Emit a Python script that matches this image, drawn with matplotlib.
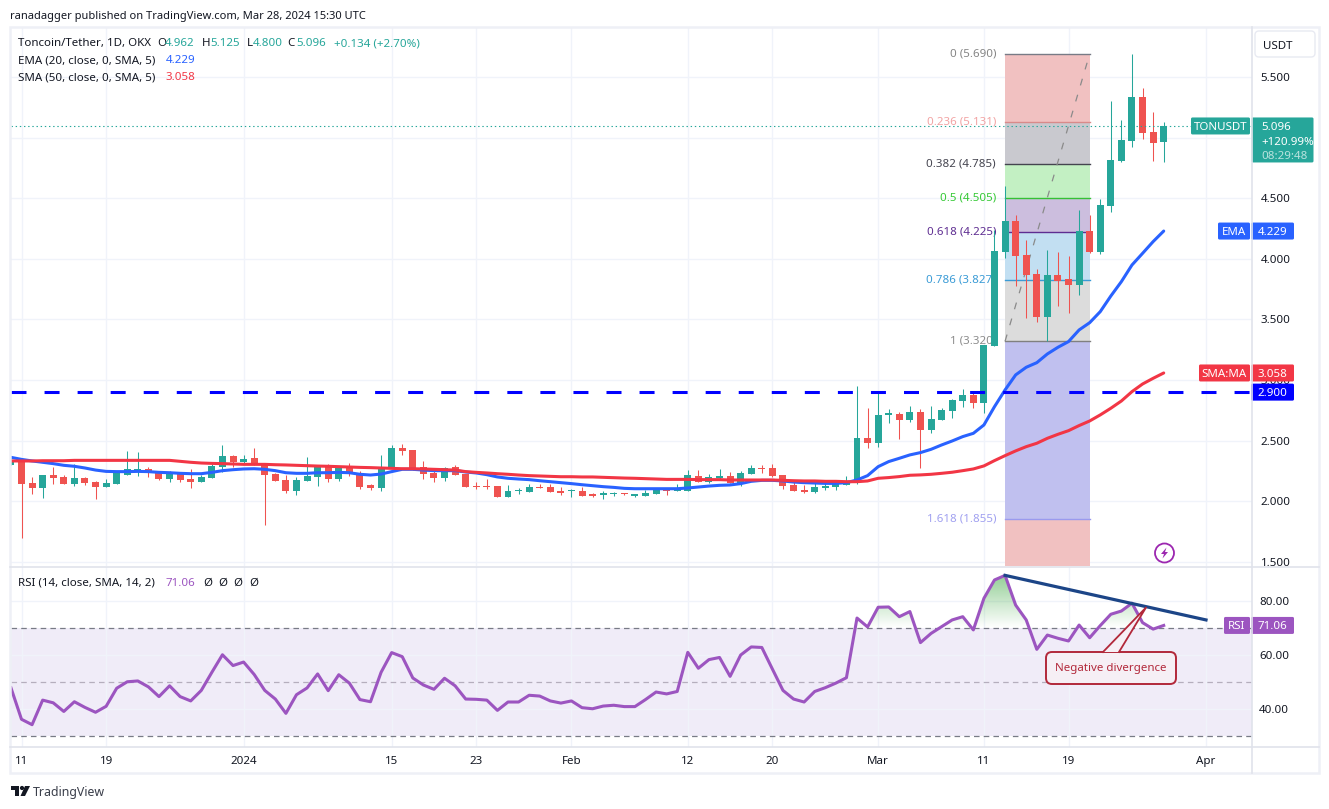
# TON/USDT daily chart with fib levels and RSI pane
import matplotlib
matplotlib.use("Agg")
import matplotlib.pyplot as plt
import numpy as np
from matplotlib.patches import Rectangle, FancyBboxPatch, Polygon, Circle
from matplotlib.path import Path

plt.rcParams["font.family"] = ["Noto Sans", "DejaVu Sans"]
plt.rcParams["lines.scale_dashes"] = False

# candles, one row per day, first one is Dec 10
open_p = [2.300, 2.332, 2.150, 2.112, 2.216, 2.200, 2.145, 2.191, 2.158, 2.120,
          2.145, 2.219, 2.241, 2.266, 2.241, 2.183, 2.233, 2.183, 2.158, 2.191,
          2.282, 2.373, 2.323, 2.356, 2.299, 2.224, 2.175, 2.084, 2.167, 2.200,
          2.282, 2.183, 2.282, 2.233, 2.134, 2.109, 2.274, 2.439, 2.422, 2.282,
          2.233, 2.191, 2.282, 2.224, 2.120, 2.120, 2.125, 2.035, 2.082, 2.076,
          2.117, 2.117, 2.084, 2.082, 2.084, 2.051, 2.054, 2.057, 2.062, 2.046,
          2.043, 2.059, 2.092, 2.084, 2.084, 2.208, 2.158, 2.191, 2.208, 2.142,
          2.224, 2.274, 2.274, 2.216, 2.134, 2.092, 2.076, 2.112, 2.117, 2.134,
          2.158, 2.521, 2.480, 2.712, 2.720, 2.670, 2.736, 2.588, 2.670, 2.745,
          2.827, 2.877, 2.811, 3.281, 4.056, 4.312, 4.032, 3.875, 3.520, 3.867,
          3.834, 3.784, 4.230, 4.056, 4.436, 4.807, 4.972, 5.335, 5.046, 4.962]
high_p = [2.345, 2.332, 2.200, 2.216, 2.282, 2.216, 2.307, 2.200, 2.167, 2.183,
          2.249, 2.414, 2.406, 2.282, 2.249, 2.249, 2.241, 2.266, 2.216, 2.307,
          2.464, 2.381, 2.381, 2.439, 2.299, 2.233, 2.216, 2.200, 2.365, 2.290,
          2.307, 2.290, 2.315, 2.249, 2.142, 2.381, 2.464, 2.472, 2.422, 2.332,
          2.274, 2.282, 2.299, 2.224, 2.158, 2.183, 2.125, 2.134, 2.109, 2.142,
          2.142, 2.142, 2.117, 2.101, 2.117, 2.065, 2.084, 2.076, 2.070, 2.059,
          2.092, 2.109, 2.109, 2.142, 2.257, 2.257, 2.224, 2.266, 2.241, 2.249,
          2.299, 2.299, 2.307, 2.216, 2.158, 2.134, 2.158, 2.150, 2.158, 2.208,
          2.950, 2.769, 2.901, 2.761, 2.736, 2.786, 2.761, 2.786, 2.769, 2.844,
          2.926, 2.901, 3.289, 4.238, 4.601, 4.362, 4.155, 3.916, 4.073, 4.056,
          4.023, 4.403, 4.362, 4.494, 5.302, 5.145, 5.690, 5.409, 5.211, 5.125]
low_p = [2.300, 1.699, 2.062, 2.029, 2.145, 2.145, 2.128, 2.136, 2.021, 2.120,
         2.145, 2.219, 2.208, 2.200, 2.175, 2.158, 2.158, 2.109, 2.158, 2.191,
         2.241, 2.282, 2.307, 2.299, 1.804, 2.167, 2.068, 2.051, 2.167, 2.125,
         2.158, 2.167, 2.208, 2.101, 2.092, 2.084, 2.274, 2.381, 2.257, 2.183,
         2.158, 2.167, 2.216, 2.117, 2.101, 2.101, 2.035, 2.035, 2.059, 2.076,
         2.109, 2.076, 2.051, 2.035, 2.043, 2.035, 2.018, 2.043, 2.051, 2.035,
         2.043, 2.059, 2.051, 2.084, 2.084, 2.158, 2.150, 2.175, 2.150, 2.125,
         2.224, 2.233, 2.200, 2.101, 2.084, 2.068, 2.068, 2.092, 2.092, 2.134,
         2.142, 2.439, 2.447, 2.648, 2.514, 2.654, 2.274, 2.563, 2.670, 2.687,
         2.778, 2.769, 2.728, 3.281, 4.007, 3.776, 3.512, 3.479, 3.322, 3.611,
         3.553, 3.702, 4.048, 4.040, 4.386, 4.799, 4.923, 4.989, 4.807, 4.800]
close_p = [2.340, 2.145, 2.112, 2.216, 2.194, 2.145, 2.191, 2.153, 2.120, 2.150,
           2.233, 2.266, 2.266, 2.235, 2.183, 2.233, 2.175, 2.158, 2.200, 2.290,
           2.373, 2.323, 2.348, 2.299, 2.216, 2.167, 2.084, 2.175, 2.208, 2.282,
           2.183, 2.274, 2.224, 2.117, 2.109, 2.282, 2.439, 2.414, 2.266, 2.224,
           2.191, 2.274, 2.216, 2.117, 2.114, 2.114, 2.035, 2.084, 2.087, 2.117,
           2.109, 2.076, 2.068, 2.087, 2.043, 2.046, 2.059, 2.062, 2.057, 2.051,
           2.068, 2.092, 2.087, 2.092, 2.216, 2.158, 2.200, 2.208, 2.150, 2.233,
           2.274, 2.266, 2.208, 2.125, 2.084, 2.076, 2.117, 2.125, 2.142, 2.167,
           2.521, 2.480, 2.711, 2.720, 2.670, 2.736, 2.588, 2.679, 2.753, 2.835,
           2.877, 2.811, 3.289, 4.065, 4.312, 4.023, 3.867, 3.520, 3.867, 3.817,
           3.784, 4.230, 4.056, 4.444, 4.815, 4.980, 5.335, 5.038, 4.956, 5.096]

ema20 = [2.362, 2.345, 2.332, 2.321, 2.310, 2.296, 2.288, 2.274, 2.257, 2.246,
         2.244, 2.244, 2.246, 2.244, 2.238, 2.235, 2.230, 2.227, 2.227, 2.238,
         2.252, 2.260, 2.266, 2.268, 2.263, 2.252, 2.235, 2.230, 2.230, 2.235,
         2.235, 2.238, 2.235, 2.222, 2.216, 2.224, 2.244, 2.263, 2.263, 2.257,
         2.252, 2.252, 2.252, 2.241, 2.233, 2.219, 2.200, 2.189, 2.183, 2.178,
         2.169, 2.161, 2.153, 2.145, 2.136, 2.128, 2.120, 2.114, 2.106, 2.103,
         2.103, 2.103, 2.103, 2.103, 2.109, 2.117, 2.125, 2.131, 2.134, 2.145,
         2.164, 2.172, 2.172, 2.167, 2.158, 2.153, 2.150, 2.147, 2.147, 2.153,
         2.175, 2.211, 2.285, 2.327, 2.354, 2.382, 2.401, 2.428, 2.464, 2.497,
         2.533, 2.560, 2.629, 2.780, 2.918, 3.042, 3.105, 3.143, 3.215, 3.270,
         3.317, 3.413, 3.473, 3.564, 3.693, 3.812, 3.949, 4.045, 4.142, 4.229]
sma50 = [2.332, 2.332, 2.332, 2.334, 2.334, 2.334, 2.337, 2.337, 2.337, 2.337,
         2.337, 2.337, 2.337, 2.337, 2.337, 2.337, 2.329, 2.321, 2.315, 2.312,
         2.310, 2.307, 2.304, 2.304, 2.304, 2.301, 2.299, 2.296, 2.293, 2.290,
         2.288, 2.285, 2.282, 2.279, 2.277, 2.274, 2.271, 2.268, 2.268, 2.266,
         2.263, 2.260, 2.257, 2.244, 2.238, 2.233, 2.227, 2.222, 2.216, 2.211,
         2.208, 2.205, 2.202, 2.202, 2.200, 2.200, 2.197, 2.194, 2.191, 2.189,
         2.186, 2.183, 2.180, 2.180, 2.180, 2.178, 2.178, 2.178, 2.175, 2.175,
         2.175, 2.175, 2.175, 2.172, 2.169, 2.167, 2.167, 2.164, 2.164, 2.161,
         2.161, 2.167, 2.189, 2.195, 2.203, 2.214, 2.217, 2.222, 2.230, 2.239,
         2.252, 2.266, 2.291, 2.335, 2.376, 2.415, 2.450, 2.478, 2.519, 2.552,
         2.582, 2.624, 2.662, 2.712, 2.767, 2.827, 2.904, 2.967, 3.014, 3.058]
rsi14 = [48.0, 36.3, 34.3, 43.4, 42.4, 39.2, 42.8, 40.7, 38.9, 41.1,
         47.8, 50.2, 50.5, 48.3, 44.7, 48.7, 44.7, 43.1, 47.0, 53.7,
         60.2, 56.2, 57.5, 52.9, 47.0, 43.8, 38.5, 45.4, 47.9, 53.1,
         46.9, 52.8, 49.7, 43.6, 42.8, 53.7, 61.0, 59.5, 51.6, 49.0,
         47.4, 51.5, 48.7, 43.8, 43.7, 43.4, 39.6, 42.7, 42.7, 45.2,
         44.9, 43.1, 42.3, 43.1, 40.6, 40.2, 41.2, 41.5, 41.0, 41.0,
         43.6, 46.4, 45.7, 46.6, 61.1, 55.2, 58.4, 59.2, 52.2, 60.1,
         63.1, 62.9, 54.9, 47.0, 43.8, 42.7, 46.6, 48.0, 49.7, 51.7,
         73.8, 70.5, 77.8, 77.9, 74.3, 76.2, 64.7, 68.1, 70.6, 73.1,
         74.3, 69.4, 81.1, 87.9, 89.6, 78.6, 73.1, 62.2, 67.5, 66.3,
         65.3, 71.2, 66.5, 71.0, 75.2, 76.4, 79.3, 72.1, 69.7, 71.06]

days = np.arange(-1, 109)  # day number counted from Dec 11

tick_days = [0, 8, 21, 35, 43, 52, 63, 71, 81, 91, 99, 112]
tick_names = ["11", "19", "2024", "15", "23", "Feb", "12", "20", "Mar", "11", "19", "Apr"]
price_ticks = [1.5, 2.0, 2.5, 3.0, 3.5, 4.0, 4.5, 5.0, 5.5]
rsi_ticks = [40, 60, 80]
rsi_bands = [30, 50, 70]

fib_days = [93, 101]
fib_ratio = ["0", "0.236", "0.382", "0.5", "0.618", "0.786", "1", "1.618"]
fib_price = [5.690, 5.131, 4.785, 4.505, 4.225, 3.827, 3.320, 1.855]
fib_line = ["#787b86", "#d98a8a", "#44444f", "#35c035", "#5e2d91", "#3a9bd6", "#808080", "#9a9aee"]
fib_fill = ["#f1c1c1", "#c9c9cf", "#c3f0c3", "#ccbede", "#c2dff2", "#dcdcdc", "#c0c0ef", "#f1c1c1"]
fib_text = ["#858585", "#f2a3a3", "#44444f", "#35c935", "#5e2d91", "#3a9bd6", "#8c8c8c", "#a0a0f0"]

support = 2.900
last_price = 5.096
trend_days = [93, 112]
trend_rsi = [89.6, 73.1]

GREEN = "#26a69a"
RED = "#ef5350"
BLUE = "#2962ff"
SMA_RED = "#f23645"
PURPLE = "#9c55c0"
INK = "#131722"
GRID = "#f0f3fa"
EDGE = "#e0e3eb"

W, H = 1329, 809
FS = 8.3

# chart scale, pixels from the reference
X0, PX_DAY = 21.5, 10.576
PX_PRICE, PX_RSI = 121.2, 2.7


def py_price(p):
    return 77 + (5.5 - p) * PX_PRICE


def py_rsi(v):
    return 628.3 + (70 - v) * PX_RSI


def box(top, bottom, left=10.5, right=1251.5):
    return [left / W, 1 - bottom / H, (right - left) / W, (bottom - top) / H]


fig = plt.figure(figsize=(W / 100, H / 100), dpi=100, facecolor="white")
ax = fig.add_axes(box(27, 566))
ax_rsi = fig.add_axes(box(567, 746.5))
ov = fig.add_axes([0, 0, 1, 1], facecolor="none", zorder=5)
ov.set_xlim(0, W)
ov.set_ylim(H, 0)
ov.axis("off")

xlim = ((10.5 - X0) / PX_DAY, (1251.5 - X0) / PX_DAY)

# fib block
for i in range(len(fib_price)):
    low = fib_price[i + 1] if i + 1 < len(fib_price) else 0
    ax.add_patch(Rectangle((fib_days[0], low), fib_days[1] - fib_days[0], fib_price[i] - low,
                           facecolor=fib_fill[i], edgecolor="none", zorder=1))
    ax.plot(fib_days, [fib_price[i], fib_price[i]], color=fib_line[i], lw=1.0, zorder=1.2)
    ax.text(fib_days[0] - 0.85, fib_price[i], "%s (%.3f)" % (fib_ratio[i], fib_price[i]),
            color=fib_text[i], fontsize=FS, ha="right", va="center", zorder=1.3)
ax.plot(fib_days, [fib_price[6], fib_price[0]], color="#8a8a8a", lw=0.9, ls=(0, (5, 7)), zorder=1.4)

# candles
o = np.array(open_p)
c = np.array(close_p)
up = c >= o
colors = np.where(up, GREEN, RED)
wicks = ax.vlines(days, low_p, high_p, color=colors, lw=0.75, zorder=2)
wicks.set_snap(True)
ax.bar(days, np.maximum(np.abs(c - o), 0.012), bottom=np.minimum(o, c), width=0.66,
       color=colors, linewidth=0, zorder=2.1)

ax.plot(days, ema20, color=BLUE, lw=2.2, zorder=3, solid_capstyle="round")
ax.plot(days, sma50, color=SMA_RED, lw=2.2, zorder=3, solid_capstyle="round")
ax.axhline(support, color="#0000ff", lw=2.2, ls=(0, (10.8, 13)), zorder=3.2)
ax.axhline(last_price, color=GREEN, lw=0.8, ls=(0, (1, 2)), zorder=3.1)

ax.set_xlim(*xlim)
ax.set_ylim(5.5 - (566 - 77) / PX_PRICE, 5.5 + (77 - 27) / PX_PRICE)
ax.set_yticks(price_ticks)
# 5.000 sits fully behind the last price tag
ax.set_yticklabels(["" if t == 5.0 else "%.3f" % t for t in price_ticks])
ax.yaxis.tick_right()
ax.set_xticks(tick_days)
ax.tick_params(axis="x", length=0, labelbottom=False)
ax.tick_params(axis="y", length=0, labelsize=FS, labelcolor=INK, pad=6.5)
ax.grid(True, color=GRID, lw=1)
ax.set_axisbelow(True)

# RSI pane
ax_rsi.axhspan(rsi_bands[0], rsi_bands[2], color="#f0ecf8", lw=0, zorder=0.4)
ax_rsi.plot(days, rsi14, color=PURPLE, lw=2.2, zorder=3, solid_joinstyle="round")
for v, col in zip(rsi_bands, ["#787b86", "#b5aebd", "#787b86"]):
    ax_rsi.axhline(v, color=col, lw=0.9, ls=(0, (4, 3)), zorder=1)

rsi_arr = np.array(rsi14)
hot = ax_rsi.fill_between(days, rsi_arr, 70, where=rsi_arr > 70, interpolate=True,
                          facecolor="none", edgecolor="none")
shade = np.zeros((64, 2, 4))
shade[..., :3] = matplotlib.colors.to_rgb("#4caf50")
shade[..., 3] = np.linspace(0.62, 0, 64)[:, None]
img = ax_rsi.imshow(shade, extent=(xlim[0], xlim[1], 70, 90), aspect="auto", zorder=1.5, origin="upper")
img.set_clip_path(Path.make_compound_path(*hot.get_paths()), transform=ax_rsi.transData)

ax_rsi.plot(trend_days, trend_rsi, color="#1c4587", lw=2.3, zorder=4)

ax_rsi.set_xlim(*xlim)
ax_rsi.set_ylim(70 - (746.5 - 628.3) / PX_RSI, 70 + (628.3 - 567) / PX_RSI)
ax_rsi.set_yticks(rsi_ticks)
ax_rsi.set_yticklabels(["%.2f" % t for t in rsi_ticks])
ax_rsi.yaxis.tick_right()
ax_rsi.set_xticks(tick_days)
ax_rsi.set_xticklabels(tick_names)
ax_rsi.get_xticklabels()[2].set_fontweight("bold")
ax_rsi.tick_params(axis="x", length=0, labelsize=FS, labelcolor=INK, pad=6.5)
ax_rsi.tick_params(axis="y", length=0, labelsize=FS, labelcolor=INK, pad=5.5)
ax_rsi.grid(True, color=GRID, lw=1)
ax_rsi.set_axisbelow(True)

for a in (ax, ax_rsi):
    for s in a.spines.values():
        s.set_visible(False)


# chart frame
def tag(left, right, yc, text, color, half=8.5, txt="white"):
    ov.add_patch(FancyBboxPatch((left + 1, yc - half + 1), right - left - 2, 2 * half - 2,
                                boxstyle="round,pad=1,rounding_size=1.5", fc=color, ec="none"))
    ov.text((left + right) / 2, yc, text, color=txt, fontsize=FS, ha="center", va="center_baseline")


ov.add_patch(Rectangle((10, 27), 1309, 746, fc="none", ec="#eef0f6", lw=1.8))
ov.plot([1251.5, 1251.5], [27, 773], color=EDGE, lw=1.2)
ov.plot([10, 1319], [566.5, 566.5], color=EDGE, lw=1.2)
ov.plot([10, 1319], [746.5, 746.5], color=EDGE, lw=1.2)

ov.add_patch(FancyBboxPatch((1257, 33), 56, 22, boxstyle="round,pad=2,rounding_size=4", fc="white", ec="#e8eaf2", lw=1))
ov.text(1278, 44.5, "USDT", color=INK, fontsize=FS, ha="center", va="center_baseline")

# price tags
y = py_price(last_price)
tag(1191, 1250, y, "TONUSDT", GREEN)
ov.add_patch(FancyBboxPatch((1252, y - 8), 61, 44, boxstyle="round,pad=0.5,rounding_size=1.5", fc=GREEN, ec="none"))
ov.text(1261, y, "5.096", color="white", fontsize=FS, va="center_baseline")
ov.text(1261, y + 15, "+120.99%", color="white", fontsize=FS, va="center_baseline")
ov.text(1261, y + 29, "08:29:48", color="#b9e3de", fontsize=FS, va="center_baseline")

tag(1218, 1250, py_price(ema20[-1]), "EMA", BLUE)
tag(1251, 1294, py_price(ema20[-1]), "%.3f" % ema20[-1], BLUE)
tag(1199, 1250, py_price(sma50[-1]), "SMA:MA", SMA_RED)
tag(1251, 1294, py_price(sma50[-1]), "%.3f" % sma50[-1], SMA_RED)
tag(1251, 1294, py_price(support), "%.3f" % support, "#0000ff")
tag(1224, 1250, py_rsi(rsi14[-1]), "RSI", PURPLE)
tag(1251, 1294, py_rsi(rsi14[-1]), "%.2f" % rsi14[-1], PURPLE)

# header and legends
ov.text(10, 14.5, "ranadagger published on TradingView.com, Mar 28, 2024 15:30 UTC", color=INK, fontsize=8.0, va="center_baseline")
ov.text(18, 42, "Toncoin/Tether, 1D, OKX", color=INK, fontsize=FS, va="center_baseline")
for lx, label, vx, val in [(157, "O", 165, "4.962"), (202, "H", 210, "5.125"), (247, "L", 252.5, "4.800"), (287, "C", 296, "5.096")]:
    ov.text(lx, 42, label, color=INK, fontsize=FS, va="center_baseline")
    ov.text(vx, 42, val, color=GREEN, fontsize=FS, va="center_baseline")
ov.text(333.5, 42, "+0.134 (+2.70%)", color=GREEN, fontsize=FS, va="center_baseline")
ov.text(18, 59, "EMA (20, close, 0, SMA, 5)", color=INK, fontsize=FS, va="center_baseline")
ov.text(165.5, 59, "4.229", color=BLUE, fontsize=FS, va="center_baseline")
ov.text(18, 76, "SMA (50, close, 0, SMA, 5)", color=INK, fontsize=FS, va="center_baseline")
ov.text(165, 76, "3.058", color=SMA_RED, fontsize=FS, va="center_baseline")
ov.text(18, 581.5, "RSI (14, close, SMA, 14, 2)", color=INK, fontsize=FS, va="center_baseline")
ov.text(166, 581.5, "71.06", color=PURPLE, fontsize=FS, va="center_baseline")
for lx in (203, 218, 233, 249):
    ov.text(lx, 581.5, "Ø", color=INK, fontsize=FS, va="center_baseline")

# callout
NOTE = "#b2283a"
ov.add_patch(FancyBboxPatch((1051, 657), 120, 22, boxstyle="round,pad=5,rounding_size=6", fc="#f6eff5", ec=NOTE, lw=1.4))
ov.add_patch(Polygon([(1103, 652), (1146, 607.5), (1119, 652)], closed=True, fc="#f6eff5", ec="none"))
ov.plot([1103, 1146, 1119], [652, 607.5, 652], color=NOTE, lw=1.3)
ov.text(1111, 667, "Negative divergence", color=NOTE, fontsize=FS, ha="center", va="center_baseline")

# flash icon and logo
ov.add_patch(Circle((1164.5, 553), 9.5, fc="white", ec="#9c27b0", lw=1.3))
ov.add_patch(Polygon([(1166.5, 547.5), (1161, 554), (1164, 554), (1162.5, 558.5), (1168, 552), (1165, 552)], fc="#9c27b0", ec="none"))

ov.add_patch(Polygon([(10.5, 786), (19, 786), (19, 796), (14.5, 796), (14.5, 790), (10.5, 790)], fc=INK, ec="none"))
ov.add_patch(Circle((22, 788), 2.1, fc=INK, ec="none"))
ov.add_patch(Polygon([(25, 786), (30, 786), (25, 796), (20.5, 796)], fc=INK, ec="none"))
ov.text(33, 791, "TradingView", color="#3a3e4a", fontsize=8.9, va="center_baseline")

fig.savefig("out.png", dpi=100, facecolor="white")
